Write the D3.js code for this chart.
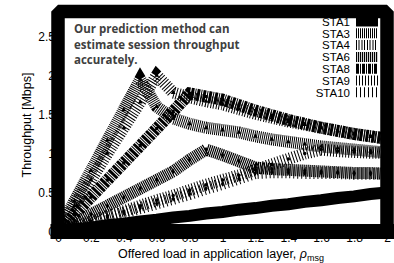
<!DOCTYPE html>
<html>
<head>
<meta charset="utf-8">
<script src="https://d3js.org/d3.v7.min.js"></script>
<style>
  body { margin: 0; background: #fff; }
  text { font-family: "Liberation Sans", Arial, sans-serif; }
</style>
</head>
<body>
<svg id="chart" width="394" height="263"></svg>
<script>
// offered load values (x)
const loads = [0, 0.1, 0.2, 0.3, 0.4, 0.5, 0.6, 0.7, 0.8, 0.9, 1.0,
               1.1, 1.2, 1.3, 1.4, 1.5, 1.6, 1.7, 1.8, 1.9, 2.0];

// throughput [Mbps] per station
const sta1  = [0, 0.03, 0.05, 0.08, 0.1, 0.13, 0.15, 0.18, 0.2, 0.23, 0.25,
               0.28, 0.3, 0.33, 0.35, 0.38, 0.4, 0.43, 0.45, 0.48, 0.5];
const sta3  = [0, 0.39, 0.78, 1.17, 1.56, 1.95, 1.6, 1.45, 1.38, 1.33, 1.3,
               1.27, 1.22, 1.18, 1.15, 1.12, 1.09, 1.07, 1.05, 1.03, 1.01];
const sta4  = [0, 0.33, 0.66, 1.0, 1.33, 1.66, 2.0, 1.78, 1.72, 1.67, 1.63,
               1.57, 1.51, 1.46, 1.41, 1.37, 1.33, 1.29, 1.25, 1.22, 1.19];
const sta6  = [0, 0.11, 0.22, 0.33, 0.44, 0.55, 0.66, 0.77, 0.92, 1.05, 0.98,
               0.9, 0.82, 0.8, 0.79, 0.78, 0.77, 0.76, 0.75, 0.75, 0.74];
const sta8  = [0, 0.22, 0.44, 0.66, 0.88, 1.1, 1.32, 1.54, 1.77, 1.73, 1.69,
               1.62, 1.55, 1.49, 1.43, 1.38, 1.33, 1.29, 1.25, 1.22, 1.19];
const sta9  = [0, 0.07, 0.13, 0.2, 0.26, 0.33, 0.4, 0.46, 0.53, 0.6, 0.66,
               0.72, 0.79, 0.86, 0.93, 1.0, 1.05, 1.03, 1.02, 1.01, 1.01];
const sta10 = [0, 0.06, 0.12, 0.18, 0.24, 0.3, 0.36, 0.42, 0.48, 0.55, 0.61,
               0.68, 0.75, 0.76, 0.76, 0.75, 0.75, 0.75, 0.74, 0.74, 0.74];

const names = ["STA1", "STA3", "STA4", "STA6", "STA8", "STA9", "STA10"];
const seriesValues = [sta1, sta3, sta4, sta6, sta8, sta9, sta10];
const dashes = ["none", "1,1", "1,1.5,1,2", "1.2,0.8", "3,1,1,1", "1,2", "1,3"];
const symbols = [null, d3.symbolTriangle, d3.symbolTriangle, d3.symbolDiamond,
                 d3.symbolSquare, d3.symbolCircle, d3.symbolDiamond];

const xTicks = [0, 0.2, 0.4, 0.6, 0.8, 1, 1.2, 1.4, 1.6, 1.8, 2];
const yTicks = [0, 0.5, 1, 1.5, 2, 2.5];
const note = ["Our prediction method can", "estimate session throughput", "accurately."];

const svg = d3.select("#chart");
const mLeft = 58, mRight = 387, mTop = 11.5, mBottom = 231.5;

const x = d3.scaleLinear().domain([0, 2]).range([mLeft, mRight]);
const y = d3.scaleLinear().domain([0, 2.82]).range([mBottom, mTop]);

// tick labels (partly hidden under the frame, like the original)
const xAxis = d3.axisBottom(x).tickValues(xTicks).tickSize(0).tickPadding(2)
  .tickFormat(d3.format("~g"));
svg.append("g").attr("transform", "translate(0," + mBottom + ")").call(xAxis);
const yAxis = d3.axisLeft(y).tickValues(yTicks).tickSize(0).tickPadding(3)
  .tickFormat(d3.format("~g"));
svg.append("g").attr("transform", "translate(" + mLeft + ",0)").call(yAxis);
svg.selectAll(".domain").remove();
svg.selectAll(".tick text")
  .style("font-family", "Liberation Sans, Arial, sans-serif")
  .style("font-size", "12px")
  .attr("fill", "#000");

svg.append("clipPath").attr("id", "plotclip")
  .append("rect")
  .attr("x", mLeft).attr("y", mTop)
  .attr("width", mRight - mLeft).attr("height", mBottom - mTop);

const line = d3.line().x((d, i) => x(loads[i])).y(d => y(d));

const plot = svg.append("g").attr("clip-path", "url(#plotclip)");
seriesValues.forEach((vals, k) => {
  plot.append("path")
    .datum(vals)
    .attr("d", line)
    .attr("fill", "none")
    .attr("stroke", "#000")
    .attr("stroke-width", 12)
    .attr("stroke-dasharray", dashes[k]);
});
seriesValues.forEach((vals, k) => {
  if (!symbols[k]) return;
  plot.selectAll(null)
    .data(vals)
    .enter()
    .append("path")
    .attr("d", d3.symbol().type(symbols[k]).size(10))
    .attr("transform", (d, i) => "translate(" + x(loads[i]) + "," + y(d) + ")")
    .attr("fill", "#000");
});

// annotation
const noteText = svg.append("text")
  .attr("x", 74).attr("y", 33)
  .style("font-family", "'Open Sans', sans-serif")
  .style("font-weight", "bold")
  .style("font-size", "11.5px")
  .attr("fill", "#404040");
note.forEach((t, i) => {
  noteText.append("tspan").attr("x", 74).attr("dy", i === 0 ? 0 : 15.5).text(t);
});

// legend
const legend = svg.append("g");
names.forEach((n, k) => {
  const ly = 21.5 + k * 11.8;
  legend.append("text")
    .attr("x", 350).attr("y", ly + 4.2)
    .attr("text-anchor", "end")
    .style("font-size", "11.5px")
    .text(n);
  legend.append("line")
    .attr("x1", 356).attr("x2", 378)
    .attr("y1", ly).attr("y2", ly)
    .attr("stroke", "#000")
    .attr("stroke-width", 10)
    .attr("stroke-dasharray", dashes[k]);
});

// thick frame
svg.append("path")
  .attr("d", "M" + mLeft + "," + mBottom + "L" + mLeft + "," + mTop + "L" + mRight + "," + mTop + "L" + mRight + "," + mBottom)
  .attr("fill", "none")
  .attr("stroke", "#000")
  .attr("stroke-width", 13.5)
  .attr("stroke-linejoin", "bevel");
svg.append("line")
  .attr("x1", mLeft).attr("x2", mRight)
  .attr("y1", mBottom).attr("y2", mBottom)
  .attr("stroke", "#000")
  .attr("stroke-width", 15)
  .attr("stroke-linecap", "square");

// axis titles
const xl = svg.append("text")
  .attr("x", 221).attr("y", 258)
  .attr("text-anchor", "middle")
  .style("font-size", "12.5px");
xl.append("tspan").text("Offered load in application layer, ");
xl.append("tspan").style("font-style", "italic").text("\u03C1");
xl.append("tspan").attr("dy", 3).style("font-size", "9px").text("msg");

svg.append("text")
  .attr("transform", "translate(31,125) rotate(-90)")
  .attr("text-anchor", "middle")
  .style("font-size", "12.5px")
  .text("Throughput [Mbps]");
</script>
</body>
</html>
